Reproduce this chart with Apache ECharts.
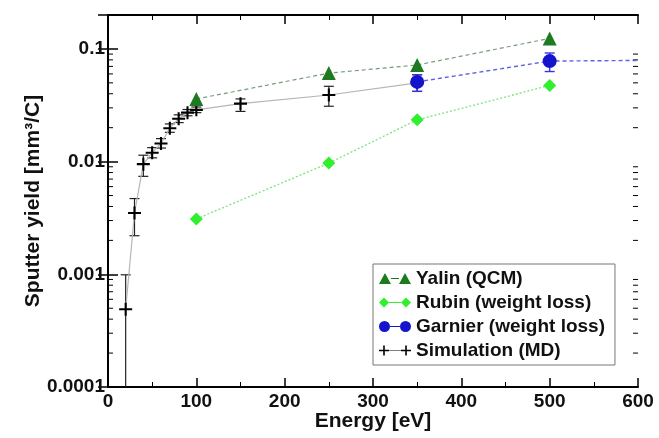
<!DOCTYPE html>
<html><head><meta charset="utf-8">
<script src="https://cdn.jsdelivr.net/npm/echarts@6/dist/echarts.min.js"></script>
<style>html,body{margin:0;padding:0;background:#fff}#c{width:659px;height:438px}</style>
</head><body><div id="c"></div>
<script>
// ---- data ----
const yalinE = [100, 250, 350, 500];
const yalinY = [0.036, 0.061, 0.072, 0.124];

const rubinE = [100, 250, 350, 500];
const rubinY = [0.0031, 0.0097, 0.0235, 0.0474];

const garnierE = [350, 500, 600];
const garnierY = [0.051, 0.078, 0.079];
const garnierLo = [0.042, 0.063, null];
const garnierHi = [0.059, 0.092, null];

const simE  = [20, 30, 40, 50, 60, 70, 80, 90, 100, 150, 250, 350];
const simY  = [0.00049, 0.0035, 0.0095, 0.012, 0.0145, 0.0198, 0.024, 0.0272, 0.0288, 0.0327, 0.039, 0.05];
const simLo = [0.00005, 0.0022, 0.0074, 0.0108, 0.0132, 0.0182, 0.0222, 0.0255, 0.0272, 0.0279, 0.031, 0.042];
const simHi = [0.00099, 0.0047, 0.0114, 0.0133, 0.016, 0.0216, 0.026, 0.029, 0.0305, 0.036, 0.0466, 0.059];

const yTickValues = [0.0001, 0.001, 0.01, 0.1];
const yTickLabels = ['0.0001', '0.001', '0.01', '0.1'];
const xTickLabels = ['0', '100', '200', '300', '400', '500', '600'];
const minorMult = [2, 3, 4, 5, 6, 7, 8, 9];
const decades = [0.0001, 0.001, 0.01, 0.1];

const legendNames = ['Yalin (QCM)', 'Rubin (weight loss)', 'Garnier (weight loss)', 'Simulation (MD)'];

// ---- helpers ----
const FONT = 'Liberation Sans, Arial, Helvetica, sans-serif';
const minorVals = [];
decades.forEach(d => minorMult.forEach(m => { const v = d * m; if (v < 0.2) minorVals.push(v); }));

function pairs(xs, ys) { return xs.map((x, i) => [x, ys[i]]); }
function errData(xs, lo, hi) {
  const out = [];
  xs.forEach((x, i) => { if (lo[i] != null && hi[i] != null) out.push([x, lo[i], hi[i]]); });
  return out;
}
function errRender(color, cap, lw) {
  return function (params, api) {
    const x = api.value(0);
    const p1 = api.coord([x, api.value(1)]);
    const p2 = api.coord([x, api.value(2)]);
    const st = { stroke: color, lineWidth: lw };
    return { type: 'group', children: [
      { type: 'line', shape: { x1: p1[0], y1: p1[1], x2: p2[0], y2: p2[1] }, style: st },
      { type: 'line', shape: { x1: p1[0] - cap, y1: p1[1], x2: p1[0] + cap, y2: p1[1] }, style: st },
      { type: 'line', shape: { x1: p2[0] - cap, y1: p2[1], x2: p2[0] + cap, y2: p2[1] }, style: st }
    ]};
  };
}
function minorRender(params, api) {
  const cs = params.coordSys;
  const p = api.coord([0, api.value(0)]);
  const st = { stroke: '#000', lineWidth: 1 };
  return { type: 'group', children: [
    { type: 'line', shape: { x1: cs.x, y1: p[1], x2: cs.x + 5, y2: p[1] }, style: st },
    { type: 'line', shape: { x1: cs.x + cs.width, y1: p[1], x2: cs.x + cs.width - 5, y2: p[1] }, style: st }
  ]};
}
function yLabel(v) {
  const e = Math.round(Math.log10(v));
  const i = yTickValues.findIndex(t => Math.round(Math.log10(t)) === e);
  return i >= 0 && Math.abs(Math.log10(v) - e) < 1e-6 ? yTickLabels[i] : '';
}

const plusPath = 'path://M0,4.2H4.2V0H5.8V4.2H10V5.8H5.8V10H4.2V5.8H0Z';
const iconTri = 'path://M0,12L6,1L12,12ZM20,12L26,1L32,12ZM12,6H20V7H12Z';
const iconDia = 'path://M0,6.5L5,1.5L10,6.5L5,11.5ZM22,6.5L27,1.5L32,6.5L27,11.5ZM10,6H22V7H10Z';
const iconCir = 'path://M0,6.5A5.5,5.5,0,1,0,11,6.5A5.5,5.5,0,1,0,0,6.5ZM21,6.5A5.5,5.5,0,1,0,32,6.5A5.5,5.5,0,1,0,21,6.5ZM11,6H21V7H11Z';
const iconPlus = 'path://M0,5.7H4.2V1.5H5.8V5.7H10V7.3H5.8V11.5H4.2V7.3H0ZM22,5.7H26.2V1.5H27.8V5.7H32V7.3H27.8V11.5H26.2V7.3H22ZM10,6.2H22V6.8H10Z';

const chart = echarts.init(document.getElementById('c'), null, { renderer: 'canvas' });
const axisFont = { fontFamily: FONT, fontWeight: 'bold', fontSize: 19, color: '#111' };

chart.setOption({
  animation: false,
  backgroundColor: '#fff',
  textStyle: { fontFamily: FONT },
  grid: { left: 108, right: 21, top: 15, bottom: 51, containLabel: false },
  legend: {
    orient: 'vertical', left: 373, top: 264,
    itemWidth: 32, itemHeight: 12, itemGap: 5,
    padding: [5, 10, 5, 6],
    borderColor: '#777', borderWidth: 1, backgroundColor: '#fff',
    textStyle: { fontFamily: FONT, fontWeight: 'bold', fontSize: 19, color: '#111' },
    data: [
      { name: legendNames[0], icon: iconTri },
      { name: legendNames[1], icon: iconDia },
      { name: legendNames[2], icon: iconCir },
      { name: legendNames[3], icon: iconPlus }
    ]
  },
  xAxis: [{
    type: 'value', min: 0, max: 600, interval: 100, position: 'bottom',
    name: 'Energy [eV]', nameLocation: 'middle', nameGap: 24, nameMoveOverlap: false,
    nameTextStyle: { fontFamily: FONT, fontWeight: 'bold', fontSize: 21, color: '#111' },
    axisLine: { lineStyle: { color: '#000', width: 2 } },
    axisTick: { inside: true, length: 9, lineStyle: { color: '#000', width: 1.5 } },
    minorTick: { show: true, splitNumber: 2, length: 5, lineStyle: { color: '#000', width: 1 } },
    splitLine: { show: false },
    axisLabel: Object.assign({ margin: 5, formatter: v => xTickLabels[Math.round(v / 100)] }, axisFont)
  }, {
    type: 'value', min: 0, max: 600, interval: 100, position: 'top',
    axisLine: { lineStyle: { color: '#000', width: 2 } },
    axisTick: { inside: true, length: 9, lineStyle: { color: '#000', width: 1.5 } },
    minorTick: { show: true, splitNumber: 2, length: 5, lineStyle: { color: '#000', width: 1 } },
    splitLine: { show: false }, axisLabel: { show: false }
  }],
  yAxis: [{
    type: 'log', min: 0.0001, max: 0.2, interval: 1, logBase: 10, position: 'left',
    name: 'Sputter yield [mm³/C]', nameLocation: 'middle', nameGap: 64, nameRotate: 90,
    nameMoveOverlap: false,
    nameTextStyle: { fontFamily: FONT, fontWeight: 'bold', fontSize: 21, color: '#111' },
    axisLine: { lineStyle: { color: '#000', width: 2 } },
    axisTick: { inside: true, length: 10, lineStyle: { color: '#000', width: 1.5 } },
    splitLine: { show: false },
    axisLabel: Object.assign({ margin: 3, showMaxLabel: false, formatter: yLabel }, axisFont)
  }, {
    type: 'log', min: 0.0001, max: 0.2, interval: 1, logBase: 10, position: 'right',
    axisLine: { lineStyle: { color: '#000', width: 2 } },
    axisTick: { inside: true, length: 10, lineStyle: { color: '#000', width: 1.5 } },
    splitLine: { show: false }, axisLabel: { show: false }
  }],
  series: [
    { type: 'custom', name: 'yminor', silent: true, renderItem: minorRender,
      data: minorVals.map(v => [v]), encode: { y: 0 }, xAxisIndex: 0, yAxisIndex: 0, z: 1 },
    { type: 'custom', name: 'simErr', silent: true, clip: true, renderItem: errRender('#222', 5, 1.2),
      data: errData(simE, simLo, simHi), encode: { x: 0, y: [1, 2] }, z: 2 },
    { type: 'line', name: legendNames[3], data: pairs(simE, simY),
      symbol: plusPath, symbolSize: 13, color: '#000',
      itemStyle: { color: '#000' },
      lineStyle: { color: '#b5b5b5', width: 1.2, type: 'solid' }, z: 3 },
    { type: 'line', name: legendNames[0], data: pairs(yalinE, yalinY),
      symbol: 'triangle', symbolSize: 14, color: '#1e7a1e',
      itemStyle: { color: '#1e7a1e' },
      lineStyle: { color: '#7b9a7b', width: 1.2, type: [4, 3] }, z: 4 },
    { type: 'line', name: legendNames[1], data: pairs(rubinE, rubinY),
      symbol: 'diamond', symbolSize: 13, color: '#2fef2f',
      itemStyle: { color: '#2fef2f' },
      lineStyle: { color: '#7fe27f', width: 1.3, type: [2, 2] }, z: 4 },
    { type: 'custom', name: 'garErr', silent: true, clip: true, renderItem: errRender('#3535e0', 5, 1.4),
      data: errData(garnierE, garnierLo, garnierHi), encode: { x: 0, y: [1, 2] }, z: 4 },
    { type: 'line', name: legendNames[2],
      data: pairs(garnierE, garnierY).map((p, i) => i === 2 ? { value: p, symbol: 'none' } : p),
      symbol: 'circle', symbolSize: 14, color: '#1414cc',
      itemStyle: { color: '#1414cc' },
      lineStyle: { color: '#6060e6', width: 1.4, type: [4, 3] }, z: 5 }
  ]
});
</script></body></html>
